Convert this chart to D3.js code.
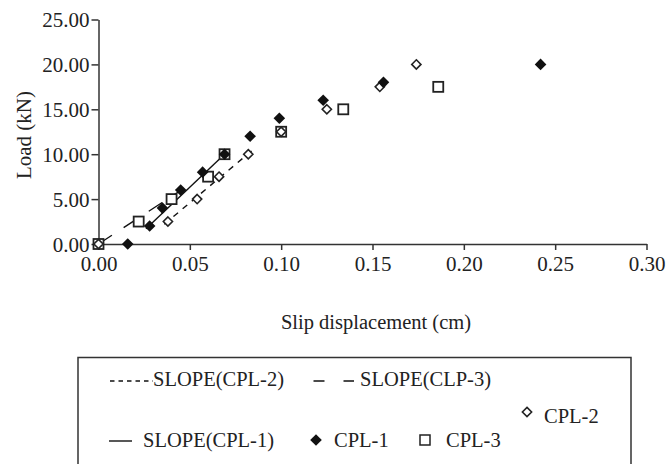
<!DOCTYPE html>
<html>
<head>
<meta charset="utf-8">
<script src="https://cdn.jsdelivr.net/npm/d3@7/dist/d3.min.js"></script>
<style>
  html, body { margin: 0; padding: 0; background: #fff; }
  svg text { font-family: "Liberation Serif", "Times New Roman", serif; fill: #222; }
</style>
</head>
<body>
<svg id="chart" width="672" height="464"></svg>
<script>
// data
var xTicks = [0, 0.05, 0.10, 0.15, 0.20, 0.25, 0.30];
var yTicks = [0, 5, 10, 15, 20, 25];

var cpl1X = [0.016, 0.028, 0.035, 0.045, 0.057, 0.069, 0.083, 0.099, 0.123, 0.156, 0.242];
var cpl1Y = [0, 2, 4, 6, 8, 10, 12, 14, 16, 18, 20];

var cpl2X = [0, 0.038, 0.054, 0.066, 0.082, 0.100, 0.125, 0.154, 0.174];
var cpl2Y = [0, 2.5, 5, 7.5, 10, 12.5, 15, 17.5, 20];

var cpl3X = [0, 0.022, 0.040, 0.060, 0.069, 0.100, 0.134, 0.186];
var cpl3Y = [0, 2.5, 5, 7.5, 10, 12.5, 15, 17.5];

var slope1X = [0.026, 0.069], slope1Y = [1.7, 10];
var slope2X = [0.036, 0.084], slope2Y = [2.2, 10.4];
var slope3X = [0.0, 0.046],   slope3Y = [0.0, 6.1];

function zip(xs, ys) { return xs.map(function (x, i) { return [x, ys[i]]; }); }

var svg = d3.select("#chart");
var x = d3.scaleLinear().domain([0, 0.30]).range([98.5, 646.5]);
var y = d3.scaleLinear().domain([0, 25]).range([244, 19.5]);

// axes
var xAxis = svg.append("g").attr("transform", "translate(0,244)")
    .call(d3.axisBottom(x).tickValues(xTicks).tickFormat(d3.format(".2f")).tickSize(6).tickSizeOuter(0));
var yAxis = svg.append("g").attr("transform", "translate(98.5,0)")
    .call(d3.axisLeft(y).tickValues(yTicks).tickFormat(d3.format(".2f")).tickSize(7).tickSizeOuter(0));

[xAxis, yAxis].forEach(function (a) {
    a.selectAll("path, line").attr("stroke", "#333").attr("stroke-width", 1.5);
    a.selectAll("text").style("font-size", "21px").attr("fill", "#222");
});
xAxis.selectAll("text").attr("y", 12).attr("dy", "0.71em");
yAxis.selectAll("text").attr("x", -9).attr("dy", "0.34em");

svg.append("text").attr("transform", "translate(31,135) rotate(-90)")
    .attr("text-anchor", "middle").style("font-size", "21px").text("Load (kN)");
svg.append("text").attr("x", 376).attr("y", 329)
    .attr("text-anchor", "middle").style("font-size", "20.5px").text("Slip displacement (cm)");

// slope lines
var line = d3.line().x(function (d) { return x(d[0]); }).y(function (d) { return y(d[1]); });
svg.append("path").datum(zip(slope3X, slope3Y)).attr("d", line)
    .attr("fill", "none").attr("stroke", "#111").attr("stroke-width", 1.4).attr("stroke-dasharray", "16,14");
svg.append("path").datum(zip(slope2X, slope2Y)).attr("d", line)
    .attr("fill", "none").attr("stroke", "#111").attr("stroke-width", 1.4).attr("stroke-dasharray", "6,6");
svg.append("path").datum(zip(slope1X, slope1Y)).attr("d", line)
    .attr("fill", "none").attr("stroke", "#111").attr("stroke-width", 1.4);

// markers
var diamond = function (r) { return "M0," + (-r) + "L" + r + ",0L0," + r + "L" + (-r) + ",0Z"; };

svg.append("g").selectAll("rect").data(zip(cpl3X, cpl3Y)).enter().append("rect")
    .attr("x", function (d) { return x(d[0]) - 5; }).attr("y", function (d) { return y(d[1]) - 5; })
    .attr("width", 10).attr("height", 10)
    .attr("fill", "#fff").attr("stroke", "#222").attr("stroke-width", 1.8);

svg.append("g").selectAll("path").data(zip(cpl2X, cpl2Y)).enter().append("path")
    .attr("transform", function (d) { return "translate(" + x(d[0]) + "," + y(d[1]) + ")"; })
    .attr("d", diamond(4.6)).attr("fill", "#fff").attr("stroke", "#222").attr("stroke-width", 1.6);

svg.append("g").selectAll("path").data(zip(cpl1X, cpl1Y)).enter().append("path")
    .attr("transform", function (d) { return "translate(" + x(d[0]) + "," + y(d[1]) + ")"; })
    .attr("d", diamond(5.8)).attr("fill", "#111");

// legend
var lg = svg.append("g");
lg.append("path").attr("d", "M78,464V357.5H631V464")
    .attr("fill", "none").attr("stroke", "#333").attr("stroke-width", 1.5);

function legText(tx, ty, s) {
    lg.append("text").attr("x", tx).attr("y", ty).style("font-size", "20.5px").text(s);
}
lg.append("line").attr("x1", 110).attr("x2", 153).attr("y1", 381).attr("y2", 381)
    .attr("stroke", "#111").attr("stroke-width", 1.3).attr("stroke-dasharray", "4.5,4");
legText(153, 386, "SLOPE(CPL-2)");
lg.append("line").attr("x1", 313.5).attr("x2", 354).attr("y1", 381).attr("y2", 381)
    .attr("stroke", "#111").attr("stroke-width", 1.3).attr("stroke-dasharray", "11,19");
legText(360, 386, "SLOPE(CLP-3)");
lg.append("path").attr("transform", "translate(527,412)").attr("d", diamond(4.6))
    .attr("fill", "#fff").attr("stroke", "#222").attr("stroke-width", 1.6);
legText(544, 423, "CPL-2");
lg.append("line").attr("x1", 109).attr("x2", 132).attr("y1", 441).attr("y2", 441)
    .attr("stroke", "#111").attr("stroke-width", 1.4);
legText(143, 447, "SLOPE(CPL-1)");
lg.append("path").attr("transform", "translate(316,440)").attr("d", diamond(5.8)).attr("fill", "#111");
legText(334, 447, "CPL-1");
lg.append("rect").attr("x", 420).attr("y", 435).attr("width", 10).attr("height", 10)
    .attr("fill", "#fff").attr("stroke", "#222").attr("stroke-width", 1.5);
legText(446, 447, "CPL-3");
</script>
</body>
</html>
